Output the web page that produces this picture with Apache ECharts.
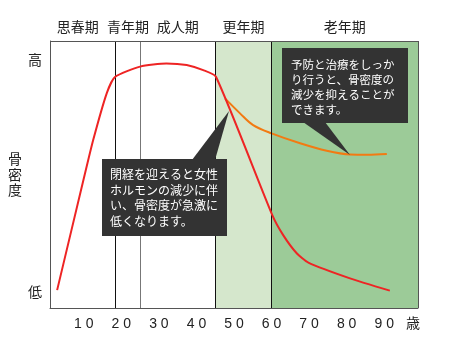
<!DOCTYPE html>
<html>
<head>
<meta charset="utf-8">
<script src="https://cdn.jsdelivr.net/npm/echarts@6/dist/echarts.min.js"></script>
<style>
html,body{margin:0;padding:0;background:#fff;}
#chart{width:459px;height:345px;}
</style>
</head>
<body>
<div id="chart"></div>
<script>
// ---- data ----
const periodNames = ['思春期', '青年期', '成人期', '更年期', '老年期'];
const periodBounds = [1, 18.5, 25, 45, 60, 99];
const xTickValues = [10, 20, 30, 40, 50, 60, 70, 80, 90];
const xUnit = '歳';
const yTickValues = [6, 93];
const yTickLabels = ['低', '高'];
const yName = '骨密度';

const redAges   = [2.9, 9.9, 12.5, 16.1, 18.3, 25, 32, 37.4, 41.8, 45.2, 60.2, 63.1, 66.7, 69.8, 80.9, 91.5];
const redValues = [6.7, 47.9, 62.9, 80.4, 86.5, 90.4, 91.6, 91.0, 89.1, 86.6, 34.8, 27.3, 20.5, 17.0, 11.1, 6.5];

const orangeAges   = [47.6, 51.6, 55.1, 60.0, 67.6, 74.7, 80.9, 85.5, 90.7];
const orangeValues = [78.5, 72.9, 68.5, 65.4, 61.7, 58.9, 57.5, 57.4, 57.7];

const note1Lines = ['閉経を迎えると女性', 'ホルモンの減少に伴', 'い、骨密度が急激に', '低くなります。'];
const note2Lines = ['予防と治療をしっか', 'り行うと、骨密度の', '減少を抑えることが', 'できます。'];

// ---- build ----
const JP = '"Noto Sans CJK JP", sans-serif';
const pairs = (xs, ys) => xs.map((x, i) => [x, ys[i]]);

const areaFill = {3: '#d5e7cc', 4: '#9ccb98'};
const areaData = periodNames.map((name, i) => [
  {
    name: name,
    xAxis: periodBounds[i],
    itemStyle: {color: areaFill[i] || 'rgba(0,0,0,0)'},
    label: {offset: i === 0 ? [-5, 0] : [0, 0]}
  },
  {xAxis: periodBounds[i + 1]}
]);

const lineData = periodBounds.slice(1, 5).map((b, i) => ({
  xAxis: b,
  lineStyle: {color: i === 1 ? '#777' : '#111', width: 1, type: 'solid'}
}));

const chart = echarts.init(document.getElementById('chart'), null, {renderer: 'canvas'});

function noteGraphics(lines, box, tri, fontSize, lineH) {
  return [
    {type: 'rect', z: 50, shape: {x: box[0], y: box[1], width: box[2], height: box[3]}, style: {fill: '#333333'}},
    {type: 'polygon', z: 50, shape: {points: tri}, style: {fill: '#333333'}},
    {type: 'text', z: 51, x: box[0] + box[4], y: box[1] + box[5],
      style: {text: lines.join('\n'), fill: '#ffffff', font: fontSize + 'px ' + JP, lineHeight: lineH, verticalAlign: 'top', align: 'left'}}
  ];
}

const option = {
  animation: false,
  backgroundColor: '#ffffff',
  grid: {left: 50, right: 41, top: 41, bottom: 37},
  xAxis: {
    type: 'value', min: 1, max: 99, z: 10,
    axisLine: {show: true, lineStyle: {color: '#555', width: 1}},
    axisTick: {show: false},
    splitLine: {show: false},
    axisLabel: {
      customValues: xTickValues,
      formatter: v => String(v).split('').join(' '),
      color: '#222', fontSize: 14, fontFamily: '"Liberation Sans", Arial, sans-serif', margin: 9
    },
    name: xUnit, nameLocation: 'end', nameGap: -5,
    nameTextStyle: {color: '#222', fontSize: 14, fontFamily: JP, align: 'center', verticalAlign: 'top', lineHeight: 30}
  },
  yAxis: {
    type: 'value', min: 0, max: 100, z: 10,
    axisLine: {show: true, lineStyle: {color: '#555', width: 1}},
    axisTick: {show: false},
    splitLine: {show: false},
    axisLabel: {
      customValues: yTickValues,
      formatter: v => yTickLabels[yTickValues.indexOf(v)],
      color: '#222', fontSize: 14, fontFamily: JP, margin: 8
    },
    name: yName.split('').join('\n'), nameLocation: 'middle', nameRotate: 0, nameGap: 8,
    nameTextStyle: {color: '#222', fontSize: 14, fontFamily: JP, lineHeight: 15.5}
  },
  series: [
    {
      type: 'line', data: [], z: 1, silent: true,
      markArea: {
        silent: true,
        label: {show: true, position: 'top', distance: 7, color: '#222', fontSize: 14, fontFamily: JP},
        data: areaData
      }
    },
    {
      type: 'line', data: [], z: 3, silent: true,
      markLine: {silent: true, symbol: 'none', label: {show: false}, data: lineData}
    },
    {
      type: 'line', z: 5, data: pairs(redAges, redValues),
      showSymbol: false, smooth: 0.2,
      lineStyle: {color: '#ee2424', width: 2}
    },
    {
      type: 'line', z: 4, data: pairs(orangeAges, orangeValues),
      showSymbol: false, smooth: 0.35,
      lineStyle: {color: '#f27a12', width: 2}
    },
    // frame top/right
    {
      type: 'line', data: [], z: 9, silent: true,
      markLine: {silent: true, symbol: 'none', label: {show: false},
        lineStyle: {color: '#555', width: 1, type: 'solid'},
        data: [{yAxis: 100}, {xAxis: 99}]}
    }
  ],
  graphic: [].concat(
    noteGraphics(note1Lines, [102, 159, 125, 77, 8, 8], [[192, 160], [215, 160], [229, 111]], 12, 15.5),
    noteGraphics(note2Lines, [282, 48, 126, 75, 9, 9], [[303, 122], [325, 122], [350, 155]], 11.5, 15)
  )
};
chart.setOption(option);
</script>
</body>
</html>
